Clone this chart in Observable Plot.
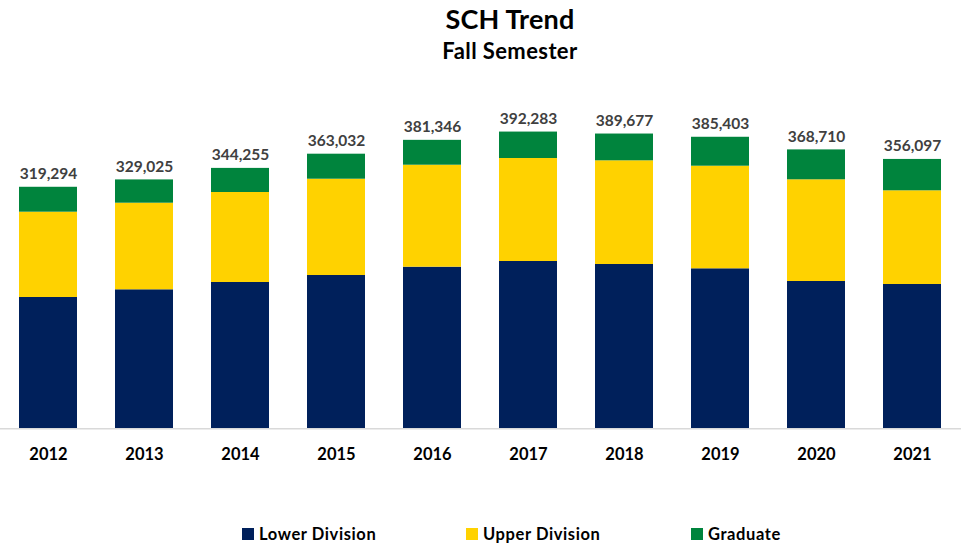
<!DOCTYPE html>
<html>
<head>
<meta charset="utf-8">
<script src="https://cdn.jsdelivr.net/npm/d3@7"></script>
<script src="https://cdn.jsdelivr.net/npm/@observablehq/plot@0.6"></script>
<style>
  html, body { margin: 0; padding: 0; background: #fff; }
  body { width: 965px; height: 545px; position: relative; overflow: hidden; font-family: Lato, "Open Sans", sans-serif; }
  .t { position: absolute; font-weight: 700; line-height: 1; white-space: nowrap; color: #000; }
  #title { left: 0; width: 1020px; text-align: center; top: 5px; font-size: 27px; letter-spacing: 0.2px; }
  #subtitle { left: 0; width: 1020px; text-align: center; top: 40px; font-size: 22px; letter-spacing: 0.4px; }
  #chart { position: absolute; left: 0; top: 70px; }
  .sw { position: absolute; width: 12px; height: 12px; top: 528px; }
  .lg { position: absolute; top: 525.5px; font-size: 16.5px; letter-spacing: 0.6px; font-weight: 700; line-height: 1; color: #000; white-space: nowrap; }
</style>
</head>
<body>
<div id="title" class="t">SCH Trend</div>
<div id="subtitle" class="t">Fall Semester</div>
<div id="chart"></div>
<div id="legend"></div>
<script>
const years = ["2012","2013","2014","2015","2016","2017","2018","2019","2020","2021"];
const series = ["Lower Division", "Upper Division", "Graduate"];
const colors = ["#00205b", "#ffd200", "#00843d"];
const lowerDivision = [173600, 183760, 193410, 202660, 213640, 221170, 217200, 211520, 194730, 190770];
const upperDivision = [112770, 114490, 118980, 127310, 134840, 136170, 137090, 135640, 134450, 123870];
const graduate = [32924, 30775, 31865, 33062, 32866, 34943, 35387, 38243, 39530, 41457];
const totals = [319294, 329025, 344255, 363032, 381346, 392283, 389677, 385403, 368710, 356097];

const seriesValues = [lowerDivision, upperDivision, graduate];
const rows = [];
years.forEach((yr, i) => {
  series.forEach((s, j) => rows.push({year: yr, series: s, value: seriesValues[j][i]}));
});
const totalRows = years.map((yr, i) => ({year: yr, total: totals[i]}));

const H = 410;
const base = 358.3;
const fmt = d3.format(",");

const chart = Plot.plot({
  width: 965,
  height: H,
  marginTop: 0,
  marginBottom: H - base,
  marginLeft: 17.7,
  marginRight: 23,
  style: {fontFamily: "Lato, 'Open Sans', sans-serif", background: "transparent"},
  x: {domain: years, paddingInner: 0.4, paddingOuter: 0, align: 0.5, label: null},
  y: {domain: [0, 400000], range: [base, base - 400000 / 1322], axis: null},
  color: {domain: series, range: colors},
  marks: [
    Plot.barY(rows, {x: "year", y: "value", fill: "series", order: series}),
    Plot.ruleY([0], {stroke: "#d9d9d9", strokeWidth: 1.5, insetLeft: -18, insetRight: -19}),
    Plot.text(totalRows, {x: "year", y: "total", text: d => fmt(d.total), dy: -8, lineAnchor: "bottom", fill: "#404040", fontSize: 15.5, fontWeight: 700}),
    Plot.axisX({tickSize: 0, tickPadding: 19, fontSize: 16.5, fontWeight: 700, fill: "#000", label: null})
  ]
});
document.getElementById("chart").appendChild(chart);

const legendPos = [242, 466, 691];
const legend = document.getElementById("legend");
series.forEach((s, j) => {
  const sw = document.createElement("div");
  sw.className = "sw";
  sw.style.left = legendPos[j] + "px";
  sw.style.background = colors[j];
  legend.appendChild(sw);
  const tx = document.createElement("div");
  tx.className = "lg";
  tx.style.left = (legendPos[j] + 17) + "px";
  tx.textContent = s;
  legend.appendChild(tx);
});
</script>
</body>
</html>
